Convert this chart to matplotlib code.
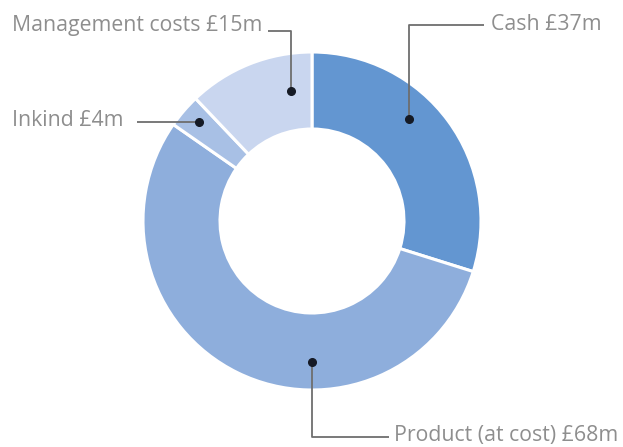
import matplotlib.pyplot as plt

# donut data
labels = ['Cash', 'Product (at cost)', 'Inkind', 'Management costs']
values = [37, 68, 4, 15]
label_text = ['Cash £37m', 'Product (at cost) £68m', 'Inkind £4m', 'Management costs £15m']
colors = ['#6396d1', '#8eaedc', '#a8c0e5', '#c9d6ef']

H = 447  # figure height in px, axes use pixel-like coords

fig = plt.figure(figsize=(6.23, 4.47), dpi=100)
ax = fig.add_axes([0, 0, 1, 1])

ax.pie(values, colors=colors, startangle=90, counterclock=False,
       radius=169, center=(312, H - 221),
       wedgeprops=dict(width=77, edgecolor='white', linewidth=2.2))
ax.set_xlim(0, 623)
ax.set_ylim(0, H)
ax.set_aspect('equal')
ax.axis('off')

# leader lines: (path in px from top-left), label anchor, alignment
leaders = {
    'Cash': ([(484, 25), (409, 25), (409, 119)], (491, 25), 'left'),
    'Product (at cost)': ([(312, 362), (312, 437), (389, 437)], (394, 435), 'left'),
    'Inkind': ([(137, 122), (199, 122)], (12, 120), 'left'),
    'Management costs': ([(268, 31), (291, 31), (291, 91)], (12, 26), 'left'),
}

for lab, txt in zip(labels, label_text):
    path, (tx, ty), ha = leaders[lab]
    xs = [p[0] for p in path]
    ys = [H - p[1] for p in path]
    ax.plot(xs, ys, color='#6e6e6e', lw=1.3, solid_capstyle='butt')
    # dot sits at the slice end of the leader
    dot = path[0] if lab == 'Product (at cost)' else path[-1]
    ax.plot(dot[0], H - dot[1], 'o', color='#151a25', ms=5.5)
    ax.text(tx, H - ty, txt, ha=ha, va='center', fontsize=15.3,
            color='#8e8e8e', family='Open Sans')

fig.savefig('out.png', dpi=100)
